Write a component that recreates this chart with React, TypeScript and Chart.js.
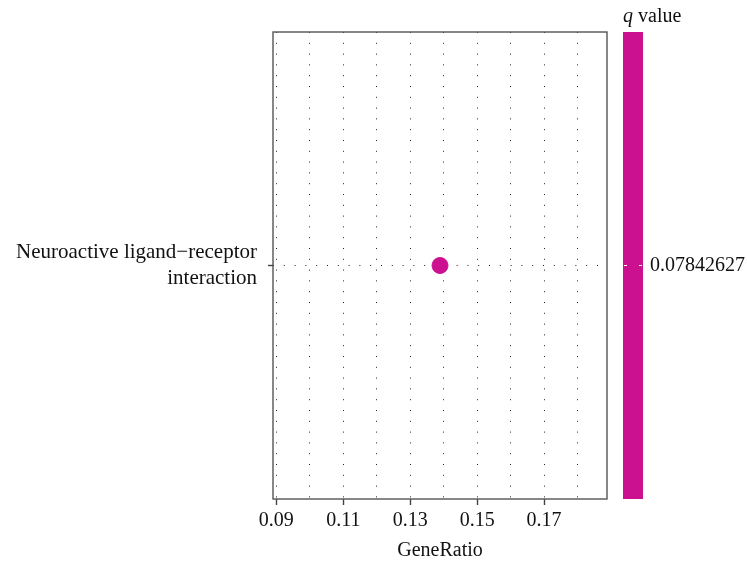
import React, { useEffect, useRef } from "react";
import { Chart, registerables } from "chart.js";

Chart.register(...registerables);

const categories: string[][] = [["Neuroactive ligand\u2212receptor", "interaction"]];
const geneRatio: number[] = [0.1389];
const qValues: number[] = [0.07842627];
const xMin = 0.0890;
const xMax = 0.1888;
const xStep = 0.01;
const colorbarLabels: string[] = ["0.07842627"];

const POINT_COLOR = "#CB1190";
const FONT = "'Liberation Serif', 'DejaVu Serif', serif";

const framePlugin = {
  id: "frameAndColorbar",
  afterDraw(chart: any) {
    const { ctx, chartArea } = chart;
    const { left, right, top, bottom } = chartArea;
    ctx.save();
    ctx.strokeStyle = "#555";
    ctx.lineWidth = 1.4;
    ctx.strokeRect(left, top, right - left, bottom - top);
    const bx = right + 16;
    const bw = 20;
    ctx.fillStyle = POINT_COLOR;
    ctx.fillRect(bx, top, bw, bottom - top);
    const yc = (top + bottom) / 2;
    ctx.strokeStyle = "#fff";
    ctx.lineWidth = 1;
    ctx.beginPath();
    ctx.moveTo(bx + 1, yc);
    ctx.lineTo(bx + 4, yc);
    ctx.moveTo(bx + bw - 4, yc);
    ctx.lineTo(bx + bw - 1, yc);
    ctx.stroke();
    ctx.fillStyle = "#111";
    ctx.font = `20px ${FONT}`;
    ctx.textAlign = "left";
    ctx.textBaseline = "middle";
    ctx.fillText(colorbarLabels[0], bx + bw + 7, yc);
    ctx.textBaseline = "alphabetic";
    ctx.font = `italic 20px ${FONT}`;
    ctx.fillText("q", bx, top - 10);
    const qw = ctx.measureText("q ").width;
    ctx.font = `20px ${FONT}`;
    ctx.fillText("value", bx + qw, top - 10);
    ctx.restore();
  },
};

export default function App() {
  const ref = useRef<HTMLCanvasElement | null>(null);
  useEffect(() => {
    if (!ref.current) return;
    const chart = new Chart(ref.current, {
      type: "scatter",
      data: {
        labels: categories as any,
        datasets: [
          {
            data: geneRatio.map((g, i) => ({ x: g, y: i })) as any,
            backgroundColor: POINT_COLOR,
            borderColor: POINT_COLOR,
            pointRadius: 8,
            pointHoverRadius: 8,
          },
        ],
      },
      options: {
        animation: false,
        responsive: false,
        maintainAspectRatio: false,
        layout: { padding: { top: 32, right: 140, left: 0, bottom: 0 } },
        plugins: { legend: { display: false }, tooltip: { enabled: false } },
        scales: {
          x: {
            type: "linear",
            min: xMin,
            max: xMax,
            afterFit: (s: any) => {
              s.height = 68;
              s.paddingLeft = 0;
              s.paddingRight = 0;
            },
            ticks: {
              stepSize: xStep,
              includeBounds: false,
              padding: 4,
              color: "#111",
              font: { family: FONT, size: 20 },
              maxRotation: 0,
              autoSkip: false,
              callback: (v: any) => {
                const n = Math.round(Number(v) * 100);
                return n % 2 === 1 ? (n / 100).toFixed(2) : "";
              },
            },
            grid: {
              color: "#222",
              lineWidth: 1,
              drawTicks: true,
              tickLength: 6,
              tickColor: (c: any) => {
                const n = Math.round(Number(c.tick?.value) * 100);
                return n % 2 === 1 ? "#444" : "rgba(0,0,0,0)";
              },
              tickWidth: 1.4,
            },
            border: { display: false, dash: [1, 9.8] },
            title: {
              display: true,
              text: "GeneRatio",
              color: "#111",
              font: { family: FONT, size: 20 },
              padding: { top: 0, bottom: 4 },
            },
          },
          y: {
            type: "category",
            labels: categories as any,
            offset: true,
            afterFit: (s: any) => {
              s.width = 273;
              s.paddingTop = 0;
              s.paddingBottom = 0;
            },
            ticks: {
              padding: 11,
              color: "#111",
              font: { family: FONT, size: 21, lineHeight: 1.2 },
            },
            grid: {
              color: "#222",
              lineWidth: 1,
              tickLength: 5,
              tickColor: "#444",
              tickWidth: 1.4,
              offset: false,
            },
            border: { display: false, dash: [1, 9.8] },
          },
        },
      },
      plugins: [framePlugin],
    });
    return () => chart.destroy();
  }, []);
  return (
    <div style={{ position: "fixed", left: 0, top: 0, width: 747, height: 567, background: "#fff" }}>
      <canvas ref={ref} width={747} height={567} style={{ width: 747, height: 567 }} />
    </div>
  );
}
